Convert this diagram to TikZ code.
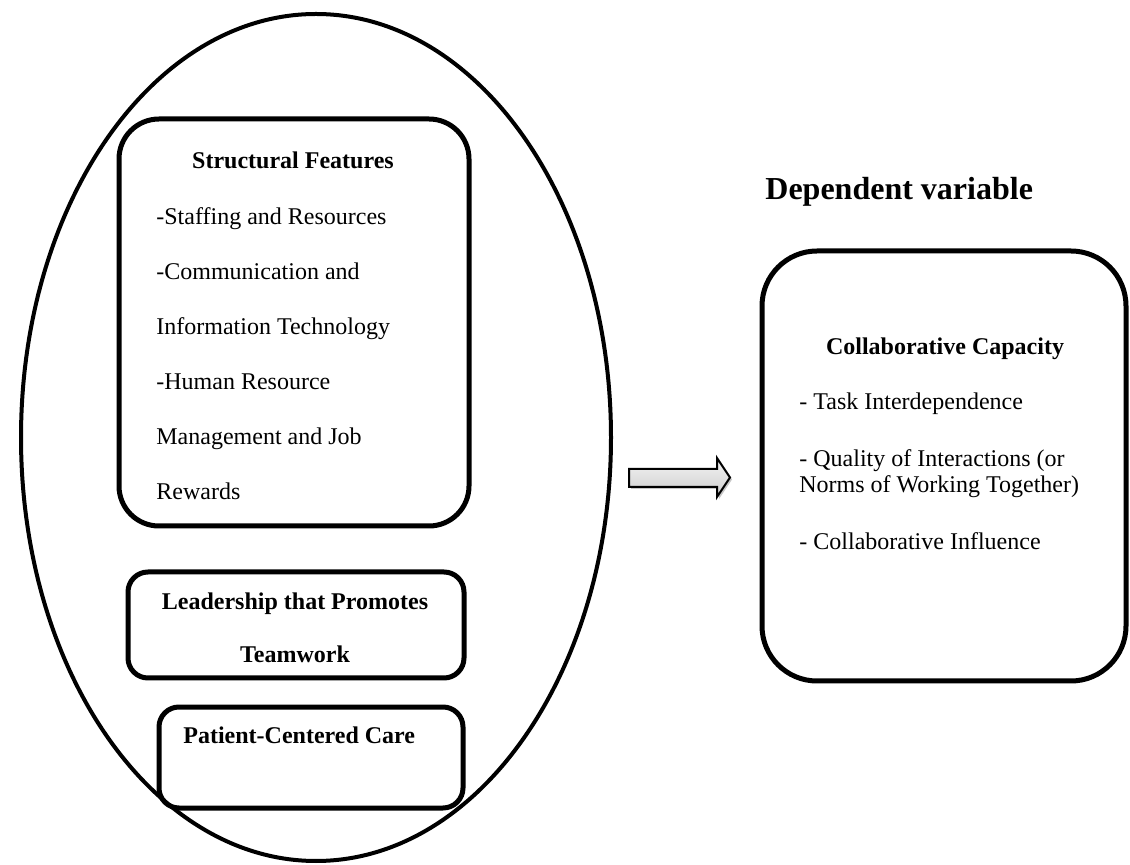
\documentclass[tikz,border=0pt]{standalone}
\usepackage{fontspec}
\setmainfont{Liberation Serif}
\usepackage{tikz}
\usetikzlibrary{shapes.geometric, shadows, positioning}
\tikzstyle{frame} = [ellipse, draw=black, line width=2pt, minimum width=295pt, minimum height=423.5pt]
\tikzstyle{factor} = [rectangle, draw=black, line width=2.5pt]
\tikzstyle{entry} = [anchor=base west, inner sep=0pt, font=\fontsize{12}{14}\selectfont]
\tikzstyle{boxtitle} = [anchor=base, inner sep=0pt, font=\fontsize{12}{14}\selectfont\bfseries]
\tikzstyle{blockarrow} = [draw=black, line width=1pt, top color=gray!8, bottom color=gray!40, drop shadow={shadow xshift=1pt, shadow yshift=-1pt, opacity=0.45}]

\begin{document}
\begin{tikzpicture}[x=0.5pt, y=-0.5pt]
  \useasboundingbox (0,0) rectangle (1130,865);

  % independent side
  \node (indep) [frame] at (316,437.5) {};
  \node (struct) [factor, rounded corners=20pt, minimum width=175pt, minimum height=203.5pt] at (294,322.5) {};
  \node (lead) [factor, rounded corners=10pt, minimum width=168pt, minimum height=53pt] at (296,625) {};
  \node (patient) [factor, rounded corners=10pt, minimum width=152pt, minimum height=50.5pt] at (311,757.5) {};

  \node (sftitle) [boxtitle] at (293,169) {Structural Features};
  \node (sf1) [entry] at (156,225) {-Staffing and Resources};
  \node (sf2) [entry, below=27.5pt of sf1.base west, anchor=base west] {-Communication and};
  \node (sf3) [entry, below=27.5pt of sf2.base west, anchor=base west] {Information Technology};
  \node (sf4) [entry, below=27.5pt of sf3.base west, anchor=base west] {-Human Resource};
  \node (sf5) [entry, below=27.5pt of sf4.base west, anchor=base west] {Management and Job};
  \node (sf6) [entry, below=27.5pt of sf5.base west, anchor=base west] {Rewards};

  \node (leadtitle) [boxtitle] at (295,610) {Leadership that Promotes};
  \node (leadtitle2) [boxtitle, below=26.5pt of leadtitle.base, anchor=base] {Teamwork};
  \node (pattitle) [boxtitle, anchor=base west] at (183,743) {Patient-Centered Care};

  % dependent side
  \node (deplabel) [anchor=base west, inner sep=0pt, font=\fontsize{16}{19}\selectfont\bfseries] at (765,200) {Dependent variable};
  \node (collab) [factor, rounded corners=27.5pt, minimum width=182pt, minimum height=215pt] at (944,466) {};
  \node (cctitle) [boxtitle] at (945,355) {Collaborative Capacity};
  \node (cc1) [entry] at (799,410) {- Task Interdependence};
  \node (cc2) [entry, below=28.5pt of cc1.base west, anchor=base west] {- Quality of Interactions (or};
  \node (cc3) [entry, below=13pt of cc2.base west, anchor=base west] {Norms of Working Together)};
  \node (cc4) [entry, below=28.5pt of cc3.base west, anchor=base west] {- Collaborative Influence};

  \coordinate (arrtail) at (629,478);
  \draw[blockarrow] (arrtail) ++(0,-9) -- ++(88,0) -- ++(0,-11) -- ++(13,19.5) -- ++(-13,19.5) -- ++(0,-10) -- ++(-88,0) -- cycle;
\end{tikzpicture}
\end{document}
